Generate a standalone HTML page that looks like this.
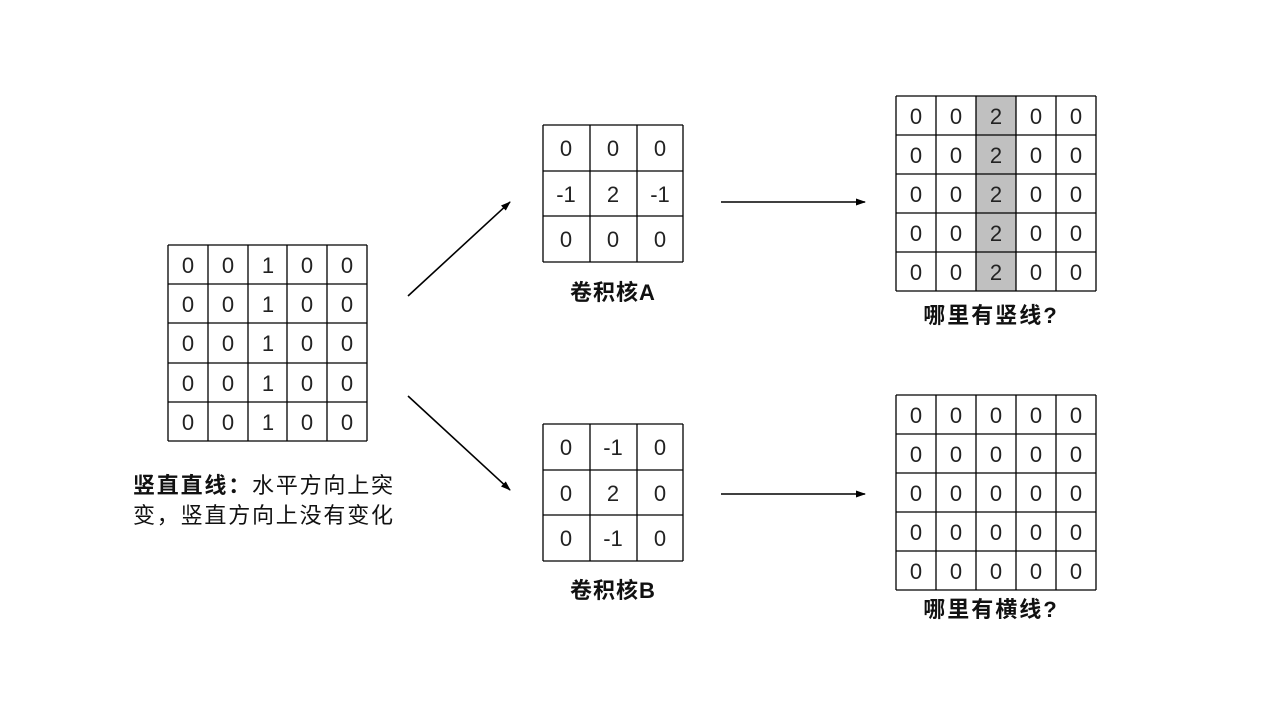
<!DOCTYPE html>
<html><head><meta charset="utf-8"><style>
html,body{margin:0;padding:0;background:#fff;}
svg text{font-family:"Liberation Sans","Noto Sans CJK SC",sans-serif;}
</style></head><body>
<svg width="1280" height="720" viewBox="0 0 1280 720" xmlns="http://www.w3.org/2000/svg">
<defs><marker id="ah" markerWidth="10" markerHeight="10" refX="9" refY="5" orient="auto" markerUnits="userSpaceOnUse"><path d="M0,1.5 L10,5 L0,8.5 Z" fill="#000"/></marker></defs>
<rect x="976" y="96" width="40" height="195" fill="#c0c0c0"/>
<g stroke="#000" stroke-width="1.3" fill="none">
<path d="M168,245H367M168,284H367M168,323H367M168,363H367M168,402H367M168,441H367M168,245V441M208,245V441M248,245V441M287,245V441M327,245V441M367,245V441"/>
<path d="M543,125H683M543,171H683M543,216H683M543,262H683M543,125V262M590,125V262M637,125V262M683,125V262"/>
<path d="M543,424H683M543,470H683M543,515H683M543,561H683M543,424V561M590,424V561M637,424V561M683,424V561"/>
<path d="M896,96H1096M896,135H1096M896,174H1096M896,213H1096M896,252H1096M896,291H1096M896,96V291M936,96V291M976,96V291M1016,96V291M1056,96V291M1096,96V291"/>
<path d="M896,395H1096M896,434H1096M896,473H1096M896,512H1096M896,551H1096M896,590H1096M896,395V590M936,395V590M976,395V590M1016,395V590M1056,395V590M1096,395V590"/>
</g>
<g font-size="22" text-anchor="middle" fill="#222">
<text x="188 228 268 307 347" y="273">00100</text>
<text x="188 228 268 307 347" y="312">00100</text>
<text x="188 228 268 307 347" y="351">00100</text>
<text x="188 228 268 307 347" y="391">00100</text>
<text x="188 228 268 307 347" y="430">00100</text>

<text x="566" y="156">0</text><text x="613" y="156">0</text><text x="660" y="156">0</text>
<text x="566" y="202">-1</text><text x="613" y="202">2</text><text x="660" y="202">-1</text>
<text x="566" y="247">0</text><text x="613" y="247">0</text><text x="660" y="247">0</text>

<text x="566" y="455">0</text><text x="613" y="455">-1</text><text x="660" y="455">0</text>
<text x="566" y="501">0</text><text x="613" y="501">2</text><text x="660" y="501">0</text>
<text x="566" y="546">0</text><text x="613" y="546">-1</text><text x="660" y="546">0</text>

<text x="916 956 996 1036 1076" y="124">00200</text>
<text x="916 956 996 1036 1076" y="163">00200</text>
<text x="916 956 996 1036 1076" y="202">00200</text>
<text x="916 956 996 1036 1076" y="241">00200</text>
<text x="916 956 996 1036 1076" y="280">00200</text>

<text x="916 956 996 1036 1076" y="423">00000</text>
<text x="916 956 996 1036 1076" y="462">00000</text>
<text x="916 956 996 1036 1076" y="501">00000</text>
<text x="916 956 996 1036 1076" y="540">00000</text>
<text x="916 956 996 1036 1076" y="579">00000</text>
</g>
<g stroke="#000" stroke-width="1.6">
<line x1="408" y1="296" x2="510" y2="202" marker-end="url(#ah)"/>
<line x1="408" y1="396" x2="510" y2="490" marker-end="url(#ah)"/>
<line x1="721" y1="202" x2="865" y2="202" marker-end="url(#ah)"/>
<line x1="721" y1="494" x2="865" y2="494" marker-end="url(#ah)"/>
</g>
<g font-size="22" font-weight="bold" text-anchor="middle" fill="#111">
<text x="613" y="300" letter-spacing="1">卷积核A</text>
<text x="613" y="598" letter-spacing="1">卷积核B</text>
<text x="991" y="323" letter-spacing="2">哪里有竖线?</text>
<text x="991" y="617" letter-spacing="2">哪里有横线?</text>
</g>
<g font-size="22" fill="#111" letter-spacing="1.8">
<text x="133" y="493"><tspan font-weight="bold">竖直直线：</tspan>水平方向上突</text>
<text x="133" y="523">变，竖直方向上没有变化</text>
</g>
</svg>
</body></html>
